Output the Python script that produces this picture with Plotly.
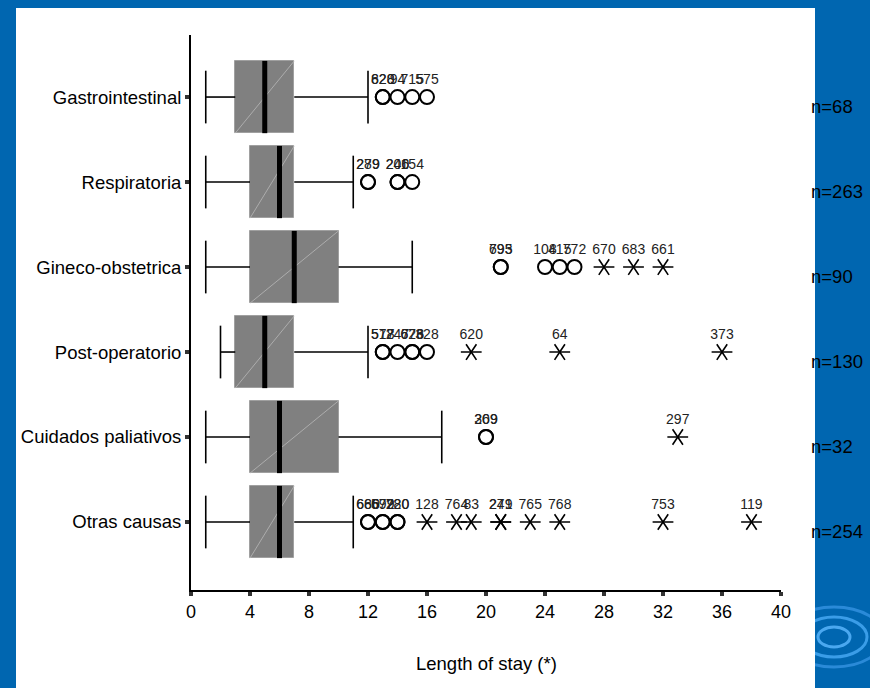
import plotly.graph_objects as go

# ---------------- data ----------------
categories = ["Gastrointestinal", "Respiratoria", "Gineco-obstetrica",
              "Post-operatorio", "Cuidados paliativos", "Otras causas"]
n_counts = [68, 263, 90, 130, 32, 254]
whisk_low = [1, 1, 1, 2, 1, 1]
q1 = [3, 4, 4, 3, 4, 4]
median = [5, 6, 7, 5, 6, 6]
q3 = [7, 7, 10, 7, 10, 7]
whisk_high = [12, 11, 15, 12, 17, 11]

# outliers (circles): category index, value, case label
out_cat = [0, 0, 0, 0, 0,
           1, 1, 1, 1, 1,
           2, 2, 2, 2, 2,
           3, 3, 3, 3, 3, 3,
           4, 4,
           5, 5, 5, 5, 5, 5]
out_val = [13, 13, 14, 15, 16,
           12, 12, 14, 14, 15,
           21, 21, 24, 25, 26,
           13, 13, 14, 15, 15, 16,
           20, 20,
           12, 12, 13, 13, 14, 14]
out_lab = ["828", "620", "94", "715", "575",
           "289", "279", "240", "206", "154",
           "695", "793", "108", "415", "772",
           "517", "578", "247", "676", "628", "328",
           "309", "269",
           "686", "660", "699", "572", "780", "220"]

# extremes (stars): category index, value, case label
ext_cat = [2, 2, 2, 3, 3, 3, 4, 5, 5, 5, 5, 5, 5, 5, 5, 5]
ext_val = [28, 30, 32, 19, 25, 36, 33, 16, 18, 19, 21, 21, 23, 25, 32, 38]
ext_lab = ["670", "683", "661", "620", "64", "373", "297", "128", "764", "83",
           "249", "271", "765", "768", "753", "119"]

x_ticks = list(range(0, 41, 4))
x_title = "Length of stay (*)"

# ---------------- styling / geometry ----------------
FONT = "Liberation Sans, Arial, sans-serif"
BLUE = "#0066b0"
BOX_H = 0.85
CAP_H = 0.31
L, R, T, B = 191, 89, 35, 98
W, H = 870, 688
PW, PH = W - L - R, H - T - B


def px(p):
    return (p - L) / PW


def py(p):
    return (H - B - p) / PH


fig = go.Figure()

# box bodies as horizontal bars
idx = list(range(len(categories)))
fig.add_trace(go.Bar(
    orientation="h", y=idx,
    x=[b - a for a, b in zip(q1, q3)], base=q1,
    width=BOX_H, marker=dict(color="#808080", line=dict(color="#a0a0a0", width=1)),
    hoverinfo="skip", showlegend=False))

# faint diagonal inside boxes
dx, dy = [], []
for i in idx:
    dx += [q1[i], q3[i], None]
    dy += [i + BOX_H / 2, i - BOX_H / 2, None]
fig.add_trace(go.Scatter(x=dx, y=dy, mode="lines",
                         line=dict(color="#b8b8b8", width=0.8),
                         hoverinfo="skip", showlegend=False))

# whiskers and caps
wx, wy = [], []
for i in idx:
    wx += [whisk_low[i], q1[i], None, q3[i], whisk_high[i], None]
    wy += [i, i, None, i, i, None]
    wx += [whisk_low[i], whisk_low[i], None, whisk_high[i], whisk_high[i], None]
    wy += [i - CAP_H, i + CAP_H, None, i - CAP_H, i + CAP_H, None]
fig.add_trace(go.Scatter(x=wx, y=wy, mode="lines",
                         line=dict(color="black", width=1.6),
                         hoverinfo="skip", showlegend=False))

# medians
mx, my = [], []
for i in idx:
    mx += [median[i], median[i], None]
    my += [i - BOX_H / 2, i + BOX_H / 2, None]
fig.add_trace(go.Scatter(x=mx, y=my, mode="lines",
                         line=dict(color="black", width=5),
                         hoverinfo="skip", showlegend=False))

# outliers (circles)
fig.add_trace(go.Scatter(
    x=out_val, y=out_cat, mode="markers+text", text=out_lab,
    textposition="top center",
    textfont=dict(family=FONT, size=14, color="#222"),
    marker=dict(symbol="circle-open", size=14, color="black",
                line=dict(width=2, color="black")),
    cliponaxis=False, hoverinfo="skip", showlegend=False))

# extremes (6-armed stars)
fig.add_trace(go.Scatter(
    x=ext_val, y=ext_cat, mode="markers",
    marker=dict(symbol="y-left-open", size=13, color="black",
                line=dict(width=1.6, color="black")),
    cliponaxis=False, hoverinfo="skip", showlegend=False))
fig.add_trace(go.Scatter(
    x=ext_val, y=ext_cat, mode="markers+text", text=ext_lab,
    textposition="top center",
    textfont=dict(family=FONT, size=14, color="#222"),
    marker=dict(symbol="y-right-open", size=13, color="black",
                line=dict(width=1.6, color="black")),
    cliponaxis=False, hoverinfo="skip", showlegend=False))

# n= annotations
annotations = []
for i in idx:
    annotations.append(dict(
        x=px(809), xref="paper", y=i + 0.11, yref="y",
        text=f"n={n_counts[i]}", showarrow=False, xanchor="left",
        yanchor="middle", font=dict(family=FONT, size=18.5, color="black")))
annotations.append(dict(
    x=20, xref="x", y=py(663), yref="paper", text=x_title, showarrow=False,
    xanchor="center", yanchor="middle",
    font=dict(family=FONT, size=18.5, color="black")))

# decorative background: ripple + white panel
shapes = []
cx, cy = 834, 637
for rx, ry, col in [(50, 30, "#2a8ad8"), (33, 20, "#3a9de8"), (16, 10, "#4aa8f0")]:
    shapes.append(dict(type="circle", xref="paper", yref="paper", layer="below",
                       x0=px(cx - rx), x1=px(cx + rx), y0=py(cy + ry), y1=py(cy - ry),
                       line=dict(color=col, width=3)))
shapes.append(dict(type="rect", xref="paper", yref="paper", layer="below",
                   x0=px(16), x1=px(815), y0=py(H + 5), y1=py(8),
                   fillcolor="white", line=dict(width=0)))

fig.update_layout(
    width=W, height=H,
    margin=dict(l=L, r=R, t=T, b=B),
    paper_bgcolor=BLUE, plot_bgcolor="white",
    font=dict(family=FONT, color="black"),
    showlegend=False, bargap=0,
    shapes=shapes, annotations=annotations,
    xaxis=dict(range=[0, 40], tickvals=x_ticks, showgrid=False, zeroline=False,
               showline=True, linecolor="black", linewidth=2,
               ticks="outside", ticklen=4, tickwidth=4, tickcolor="#333",
               tickfont=dict(family=FONT, size=18, color="black")),
    yaxis=dict(range=[5.8, -0.73], tickvals=idx, ticktext=categories,
               showgrid=False, zeroline=False,
               showline=True, linecolor="black", linewidth=2,
               ticks="outside", ticklen=4, tickwidth=4, tickcolor="#333",
               tickfont=dict(family=FONT, size=18.5, color="black")),
)

fig.write_html("out.html",
               config={"displayModeBar": False},
               post_script="document.body.style.margin='0';"
                           "document.body.style.overflow='hidden';")
